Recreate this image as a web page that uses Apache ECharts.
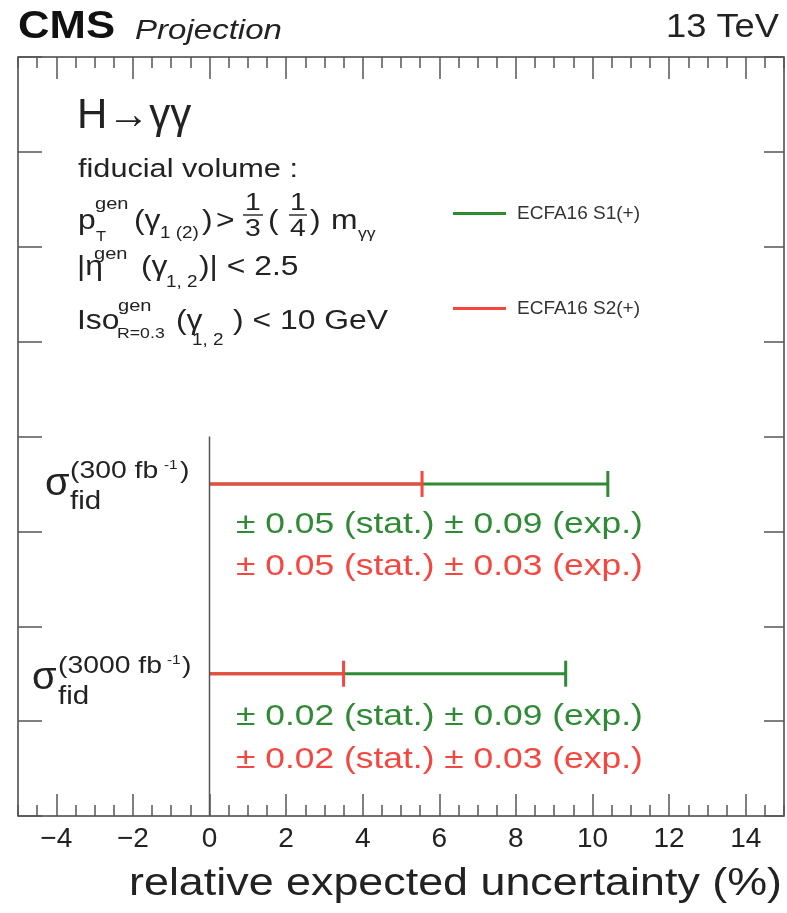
<!DOCTYPE html>
<html>
<head>
<meta charset="utf-8">
<script src="https://cdn.jsdelivr.net/npm/echarts@6/dist/echarts.min.js"></script>
<style>
  html, body { margin: 0; padding: 0; background: #fff; }
  #main { width: 787px; height: 913px; }
</style>
</head>
<body>
<div id="main"></div>
<script>
const FONT = '"Liberation Sans", Arial, Helvetica, sans-serif'
const GREEN = '#2f8a35'
const RED = '#f5473f'

// rows (y positions of the two luminosity scenarios)
const lumiLabels = ['(300 fb', '(3000 fb']
const rowY = [3.5, 1.5]
// total relative uncertainty (%)
const s1Total = [10.4, 9.3]
const s2Total = [5.55, 3.5]
const s1Text = ['\u00b1 0.05 (stat.) \u00b1 0.09 (exp.)', '\u00b1 0.02 (stat.) \u00b1 0.09 (exp.)']
const s2Text = ['\u00b1 0.05 (stat.) \u00b1 0.03 (exp.)', '\u00b1 0.02 (stat.) \u00b1 0.03 (exp.)']
const seriesNames = ['ECFA16 S1(+)', 'ECFA16 S2(+)']
const xTicks = [-4, -2, 0, 2, 4, 6, 8, 10, 12, 14]
const zeroLine = [[0, 0], [0, 4]]

const chart = echarts.init(document.getElementById('main'))

const SX = 1.18
function txt(x, y, s, size, o) {
  o = o || {}
  const align = o.align || 'left'
  return {
    type: 'text', x: x, y: y, scaleX: o.sx || SX, silent: true, z: 100,
    style: {
      text: s, fontSize: size, fontFamily: o.family || FONT,
      fontWeight: o.bold ? 'bold' : 'normal',
      fontStyle: o.italic ? 'italic' : 'normal',
      fill: o.color || '#222',
      align: align, textAlign: align,
      verticalAlign: 'middle', textVerticalAlign: 'middle'
    }
  }
}
function hline(x1, x2, y, color, w) {
  return { type: 'line', silent: true, z: 100, shape: { x1: x1, y1: y, x2: x2, y2: y }, style: { stroke: color, lineWidth: w } }
}

function barSeries(name, color, totals) {
  return {
    name: name,
    type: 'custom',
    itemStyle: { color: color },
    data: totals.map((v, i) => [v, rowY[i]]),
    renderItem: (params, api) => {
      const x = api.value(0), y = api.value(1)
      const p0 = api.coord([0, y])
      const p1 = api.coord([x, y])
      return {
        type: 'group',
        children: [
          { type: 'line', shape: { x1: p0[0], y1: p0[1], x2: p1[0], y2: p1[1] }, style: { stroke: color, lineWidth: 3 } },
          { type: 'line', shape: { x1: p1[0], y1: p1[1] - 13, x2: p1[0], y2: p1[1] + 13 }, style: { stroke: color, lineWidth: 3 } }
        ]
      }
    }
  }
}

const tickStyle = { color: '#555', width: 1.5 }
function xAx(pos, major) {
  const ax = {
    type: 'value', min: -5, max: 15, position: pos, gridIndex: 0,
    axisLine: { show: false, onZero: false }, splitLine: { show: false },
    axisTick: { show: true, inside: true, length: major ? 22 : 11, lineStyle: tickStyle },
    axisLabel: { show: false }
  }
  if (major) {
    ax.axisTick.customValues = xTicks
    if (pos === 'bottom') {
      ax.axisLabel = {
        show: true, customValues: xTicks, fontSize: 28, margin: 9, color: '#222', fontFamily: FONT,
        formatter: v => v < 0 ? '\u2212' + (-v) : String(v)
      }
    }
  } else {
    ax.interval = 0.5
  }
  return ax
}
function yAx(pos, len) {
  return {
    type: 'value', min: 0, max: 8, interval: 1, position: pos, gridIndex: 0,
    axisLine: { show: false, onZero: false }, splitLine: { show: false },
    axisTick: { show: true, inside: true, length: len, lineStyle: tickStyle },
    axisLabel: { show: false }
  }
}

const graphics = [
  txt(18, 27, 'CMS', 39, { bold: true, sx: 1.12, color: '#111' }),
  txt(135, 31, 'Projection', 28, { italic: true }),
  txt(779, 28, '13 TeV', 33, { align: 'right', sx: 1.1 }),
  txt(77, 116, 'H\u2192\u03b3\u03b3', 42, { sx: 1.0 }),
  txt(78, 170, 'fiducial volume :', 26),
  // p_T line
  txt(78, 222, 'p', 27),
  txt(95, 204, 'gen', 17),
  txt(96, 237, 'T', 14),
  txt(134, 222, '(\u03b3', 27),
  txt(160, 234, '1 (2)', 16),
  txt(202, 222, ')', 27),
  txt(216, 222, '>', 27),
  txt(253, 203, '1', 24, { align: 'center' }),
  hline(243, 263, 215, '#333', 1.5),
  txt(253, 229, '3', 24, { align: 'center' }),
  txt(268, 222, '(', 27),
  txt(298, 203, '1', 24, { align: 'center' }),
  hline(289, 307, 215, '#333', 1.5),
  txt(298, 229, '4', 24, { align: 'center' }),
  txt(310, 222, ')', 27),
  txt(331, 222, 'm', 27),
  txt(358, 234, '\u03b3\u03b3', 15),
  // eta line
  txt(77, 268, '|\u03b7', 27),
  txt(94, 254, 'gen', 17),
  txt(141, 268, '(\u03b3', 27),
  txt(166, 283, '1, 2', 16),
  txt(199, 268, ')| < 2.5', 27),
  // Iso line
  txt(77, 322, 'Iso', 27),
  txt(118, 306, 'gen', 17),
  txt(117, 334, 'R=0.3', 15),
  txt(176, 322, '(\u03b3', 27),
  txt(192, 341, '1, 2', 16),
  txt(233, 322, ') < 10 GeV', 27),
  // x axis title
  txt(782, 885, 'relative expected uncertainty (%)', 38, { align: 'right' })
]

// row labels and uncertainty texts
const sigmaX = [45, 32]
const supX = [70, 58]
const supY = [471, 666]
const minusX = [164, 167]
const closeX = [180, 182]
const sigY = [485, 679]
const txtY = [[525, 567], [717, 760]]
rowY.forEach((_, i) => {
  graphics.push(txt(sigmaX[i], sigY[i], '\u03c3', 38, { sx: 1.05 }))
  graphics.push(txt(supX[i], supY[i], lumiLabels[i], 24))
  graphics.push(txt(minusX[i], supY[i] - 6, '-1', 13))
  graphics.push(txt(closeX[i], supY[i], ')', 24))
  graphics.push(txt(supX[i], supY[i] + 31, 'fid', 25))
  graphics.push(txt(236, txtY[i][0], s1Text[i], 30, { color: GREEN }))
  graphics.push(txt(236, txtY[i][1], s2Text[i], 30, { color: RED }))
})

const option = {
  animation: false,
  backgroundColor: '#fff',
  textStyle: { fontFamily: FONT },
  grid: {
    left: 18, right: 3, top: 57, bottom: 97,
    show: true, borderColor: '#444', borderWidth: 1.5, backgroundColor: 'transparent'
  },
  legend: {
    data: seriesNames.map(n => ({ name: n, icon: 'rect' })),
    orient: 'vertical', left: 448, top: 199,
    itemWidth: 53, itemHeight: 3, itemGap: 76,
    textStyle: { fontSize: 19, color: '#333', fontFamily: FONT, padding: [0, 0, 0, 6] },
    selectedMode: false
  },
  xAxis: [xAx('bottom', true), xAx('bottom', false), xAx('top', true), xAx('top', false)],
  yAxis: [yAx('left', 24), yAx('right', 20)],
  series: [
    {
      type: 'line', data: zeroLine, xAxisIndex: 0, yAxisIndex: 0,
      symbol: 'none', silent: true,
      lineStyle: { color: '#555', width: 1.5 }
    },
    barSeries(seriesNames[0], GREEN, s1Total),
    barSeries(seriesNames[1], RED, s2Total)
  ],
  graphic: graphics
}

chart.setOption(option)
</script>
</body>
</html>
